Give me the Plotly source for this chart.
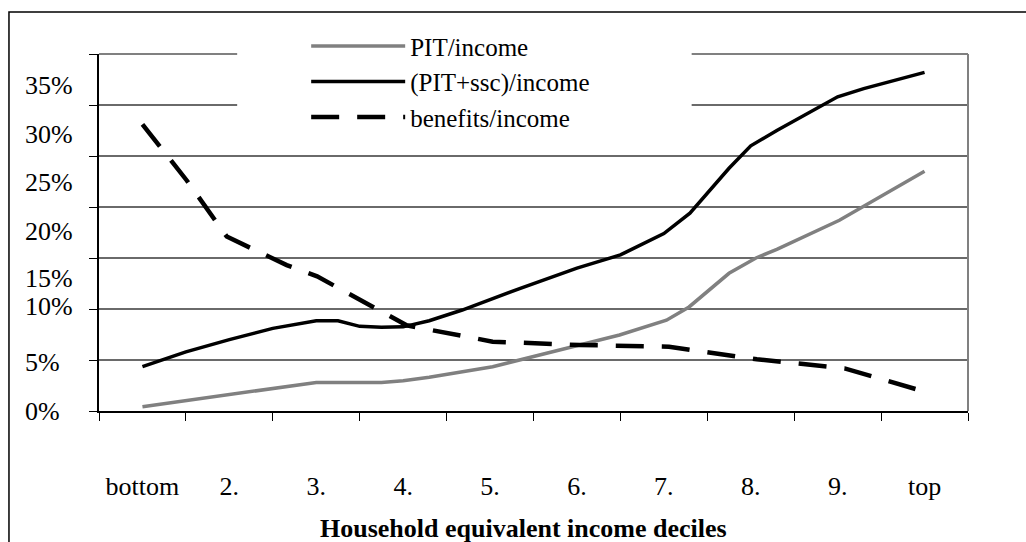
import plotly.graph_objects as go

# ---- data (in %) ----
decile_labels = ["bottom", "2.", "3.", "4.", "5.", "6.", "7.", "8.", "9.", "top"]
decile_pos = [1, 2, 3, 4, 5, 6, 7, 8, 9, 10]

pit_x = [1.0, 2.0, 2.5, 3.0, 3.75, 4.0, 4.3, 5.03, 6.03, 6.49, 7.03, 7.29, 7.75, 8.06, 8.3, 9.02, 10.0]
pit_y = [0.42, 1.57, 2.2, 2.8, 2.8, 2.97, 3.3, 4.34, 6.47, 7.45, 8.9, 10.2, 13.5, 15.0, 15.85, 18.7, 23.5]

pitssc_x = [1.0, 1.5, 2.0, 2.5, 3.0, 3.25, 3.5, 3.75, 4.0, 4.3, 4.68, 5.34, 6.0, 6.5, 7.0, 7.3, 7.75, 8.0, 8.3, 9.0, 9.3, 9.75, 10.0]
pitssc_y = [4.35, 5.8, 7.0, 8.1, 8.85, 8.85, 8.3, 8.2, 8.25, 8.85, 9.9, 12.0, 14.0, 15.3, 17.4, 19.4, 23.8, 26.0, 27.5, 30.8, 31.6, 32.6, 33.2]

ben_x = [1.0, 1.51, 1.97, 2.66, 3.01, 3.58, 4.04, 4.68, 5.03, 6.03, 7.06, 8.07, 9.08, 10.0]
ben_y = [28.1, 22.6, 17.1, 14.3, 13.2, 10.6, 8.4, 7.36, 6.8, 6.47, 6.3, 5.07, 4.18, 1.9]

grid_vals = [0, 5, 10, 15, 20, 25, 30, 35]
ytick_text = ["0%", "5%", "10%", "15%", "20%", "25%", "30%", "35%"]
ytick_label_pos = [0, 4.8, 10.2, 13.0, 17.6, 22.4, 27.1, 31.9]
x_title = "Household equivalent income deciles"

FONT = "Liberation Serif, Times New Roman, serif"
FS = 26

fig = go.Figure()
fig.add_trace(go.Scatter(x=pit_x, y=pit_y, mode="lines", name="PIT/income",
                         line=dict(color="#808080", width=3.5)))
fig.add_trace(go.Scatter(x=pitssc_x, y=pitssc_y, mode="lines", name="(PIT+ssc)/income",
                         line=dict(color="#000000", width=3.5)))
fig.add_trace(go.Scatter(x=ben_x, y=ben_y, mode="lines", name="benefits/income",
                         line=dict(color="#000000", width=4.5, dash="28px,18px")))

fig.update_layout(
    width=1026, height=542,
    margin=dict(l=99, r=58, t=54, b=131),
    paper_bgcolor="white", plot_bgcolor="white",
    font=dict(family=FONT, size=FS, color="black"),
    showlegend=True,
    legend=dict(x=0.2384, y=1.086, xanchor="left", yanchor="top",
                bgcolor="rgba(0,0,0,0)", borderwidth=0,
                font=dict(family=FONT, size=25), itemwidth=94,
                tracegroupgap=0),
    xaxis=dict(range=[0.5, 10.5], tickvals=decile_pos, ticktext=decile_labels,
               ticks="", showgrid=False, zeroline=False,
               showline=True, linecolor="black", linewidth=1.5,
               ticklabelstandoff=51,
               minor=dict(tickvals=[p - 0.5 for p in decile_pos] + [decile_pos[-1] + 0.5],
                          ticks="outside", ticklen=8, tickcolor="black", tickwidth=1.2,
                          showgrid=False)),
    yaxis=dict(range=[0, 35], tickvals=grid_vals, showticklabels=False,
               ticks="", showgrid=False, zeroline=False,
               showline=True, linecolor="black", linewidth=1.5,
               minor=dict(tickvals=grid_vals, ticks="outside", ticklen=8,
                          tickcolor="black", tickwidth=1.2, showgrid=True,
                          gridcolor="#6a6a6a", gridwidth=1.5)),
)

shapes = []
# right and top border of the plot area
shapes.append(dict(type="line", xref="paper", yref="paper", x0=1, x1=1, y0=0, y1=1,
                   line=dict(color="#808080", width=2), layer="above"))
shapes.append(dict(type="line", xref="paper", yref="paper", x0=0, x1=1, y0=1, y1=1,
                   line=dict(color="#808080", width=2), layer="above"))
# white box behind legend (hides gridlines there)
shapes.append(dict(type="rect", xref="paper", yref="paper", x0=0.159, x1=0.682, y0=0.80, y1=1.02,
                   fillcolor="white", line=dict(width=0), layer="above"))
# outer frame
shapes.append(dict(type="rect", xref="paper", yref="paper", x0=-0.1036, x1=1.3, y0=-0.6, y1=1.1176,
                   line=dict(color="black", width=1.5), fillcolor="rgba(0,0,0,0)", layer="above"))
fig.update_layout(shapes=shapes)

annotations = []
for txt, pos in zip(ytick_text, ytick_label_pos):
    annotations.append(dict(x=-0.0875, xref="paper", y=pos, yref="y", text=txt,
                            showarrow=False, xanchor="left", yanchor="middle",
                            font=dict(family=FONT, size=FS)))
annotations.append(dict(x=0.488, xref="paper", y=-0.328, yref="paper",
                        text="<b>" + x_title + "</b>", showarrow=False,
                        xanchor="center", yanchor="middle",
                        font=dict(family=FONT, size=FS)))
fig.update_layout(annotations=annotations)

fig.write_html("out.html", config={"displayModeBar": False},
               post_script="document.body.style.margin='0';document.body.style.padding='0';")
